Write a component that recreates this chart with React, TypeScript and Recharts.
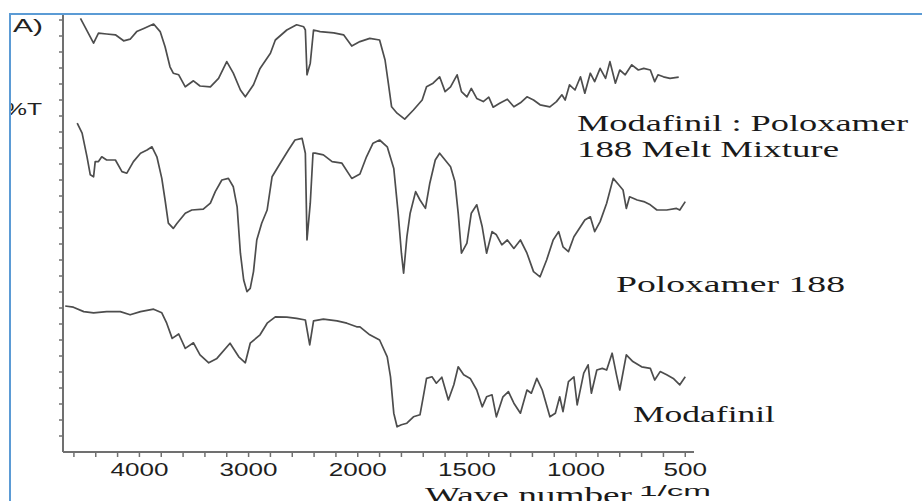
import React from "react";
import { LineChart, Line, XAxis, YAxis } from "recharts";

// ---- Data (wave number in 1/cm, transmittance in arbitrary %T units) ----
const mixWn = [4540,4420,4375,4300,4220,4145,4085,4025,3960,3870,3810,3765,3720,3690,3640,3580,3505,3445,3350,3275,3200,3140,3075,3030,2955,2895,2800,2755,2650,2560,2495,2480,2465,2435,2405,2345,2220,2130,2055,1990,1945,1900,1875,1860,1845,1820,1785,1745,1705,1685,1655,1625,1600,1575,1545,1525,1500,1480,1455,1425,1400,1380,1350,1315,1285,1255,1225,1195,1165,1120,1090,1065,1050,1030,1005,980,960,935,915,890,865,845,820,800,775,745,715,690,660,640,625,600,570,530];
const mixT = [108.4,102.2,104.7,104.5,104.3,102.8,103.2,105.1,105.9,107,105.1,101.3,96.3,94.7,94.3,91.3,92.8,91.5,91.3,93.4,97.6,94.7,90.5,88.8,91.8,95.9,99.7,103,105.5,106.8,106.3,105.5,94.3,97.2,105.5,105.1,104.8,104.3,101.5,102.6,103.4,103,98,92.2,86.3,84.7,83.2,85.5,88,91.3,92.2,93.8,90.1,91.3,94.3,90.1,88.8,90.9,88.4,87.6,88.7,86.2,87.2,88.2,86.3,87.3,88.8,88,86.8,86.3,87.6,89.3,88,91.8,90.5,93.8,89.7,94.7,92.6,95.9,93.4,97.6,92.2,95.5,94.3,96.8,95.5,95.9,95.5,92.6,94.3,93.8,93.4,93.7];

const poloWn = [4570,4525,4480,4450,4420,4405,4375,4345,4300,4220,4160,4115,4055,3990,3930,3885,3840,3795,3765,3735,3690,3655,3580,3520,3415,3350,3305,3245,3185,3140,3105,3075,3045,3015,2985,2955,2925,2880,2830,2785,2710,2635,2575,2510,2480,2465,2435,2410,2390,2315,2235,2145,2055,1990,1960,1930,1900,1865,1835,1815,1800,1790,1775,1760,1735,1715,1690,1670,1645,1625,1600,1575,1555,1540,1525,1500,1480,1455,1430,1410,1385,1365,1340,1315,1285,1255,1225,1195,1165,1135,1105,1080,1060,1035,1010,980,960,935,915,890,860,830,805,785,770,755,720,690,660,630,585,540,525,500];
const poloT = [82.2,79.7,73.8,69.3,68.8,72.6,72.6,73.8,73,73,70.1,69.7,72.6,74.7,75.5,76.3,73.8,68.4,63,57.2,55.9,57.2,59.7,60.5,60.7,62.2,65.1,68,68.4,66.3,61.3,49.7,43,40.1,40.9,45.1,53,57.2,60.5,68.8,72.2,75.5,78,78.4,74.7,53,62.2,74.7,74.7,74.3,72.6,72.2,68.4,69.5,73.8,77.2,78,76.3,70.9,59.7,49.7,44.7,53.8,59.7,65.1,63,60.9,67.2,73,74.7,73,71.3,67.6,59.7,49.7,52.2,59.7,61.8,56.3,49.7,55.1,54.3,51.8,53,50.9,53,49.7,45.1,43.8,48,53,55.1,51.3,50.1,53.8,56.3,58,58.8,55.1,57.6,62.2,68.4,66.8,65.5,60.9,63.8,63,62.6,61.8,60.5,60.5,60.9,60.5,62.6];

const modaWn = [4680,4605,4510,4420,4300,4175,4085,3990,3870,3795,3750,3700,3640,3580,3505,3445,3365,3290,3170,3090,3030,2985,2895,2830,2755,2650,2560,2480,2440,2405,2315,2190,2100,2010,1990,1945,1900,1865,1850,1835,1820,1800,1775,1745,1715,1700,1685,1660,1640,1615,1585,1560,1540,1515,1485,1455,1430,1410,1385,1365,1335,1310,1285,1255,1225,1205,1180,1155,1120,1095,1075,1060,1035,1010,995,965,945,930,905,880,860,835,815,800,770,740,700,660,640,615,585,555,525,500];
const modaT = [36.5,36.2,35.1,34.8,35.1,35.1,34.3,35.1,35.7,34.8,32.2,28.4,29.5,25.9,27.3,24.3,22.3,23.4,27.2,23.8,22.3,27.2,29.3,32.2,33.8,33.7,33.4,33,26.8,32.8,33.2,32.8,32.2,31.3,31.3,29.3,28,23.8,18.8,9.7,6.3,6.8,7.2,8.8,9.3,13.8,18.4,18.8,17.2,18.7,13,16.8,21.3,19.3,18.4,15.5,11.3,13.8,14.3,8.8,13.8,15.1,12.2,9.7,15.5,14.7,18.4,15.5,8.8,9.7,13.8,10.1,17.6,18.8,11.8,19.7,21.8,14.7,20.5,20.9,20.5,24.7,19.3,15.5,24.3,22.6,21.3,20.9,18,20.1,19.3,18.4,16.8,18.8];

// X tick marks (wave numbers): every 200 above 2000, every 100 below
const xTickWn = [4600,4400,4200,4000,3800,3600,3400,3200,3000,2800,2600,2400,2200,2000,1900,1800,1700,1600,1500,1400,1300,1200,1100,1000,900,800,700,600,500];
const xLabelWn = [4000, 3000, 2000, 1500, 1000, 500];
const yTicks = [4,8,12,16,20,24,28,32,36,40,44,48,52,56,60,64,68,72,76,80,84,88,92,96,100,104,108];

// FTIR axis: scale halves above 2000 1/cm
const toU = (wn: number) => (wn > 2000 ? 2000 + (wn - 2000) / 2 : wn);
const fromU = (u: number) => (u > 2000 ? 2000 + (u - 2000) * 2 : u);

const build = (wn: number[], t: number[]) => wn.map((w, i) => ({ u: toU(w), v: t[i] }));
const mixData = build(mixWn, mixT);
const poloData = build(poloWn, poloT);
const modaData = build(modaWn, modaT);

const XTick = (props: any) => {
  const { x, y, payload } = props;
  const wn = Math.round(fromU(payload.value));
  if (!xLabelWn.includes(wn)) return <g />;
  const label = String(wn);
  return (
    <text
      x={x}
      y={y + 17}
      textAnchor="middle"
      fontFamily="'Liberation Sans', Arial, sans-serif"
      fontSize={19}
      fill="#1e1e1e"
      textLength={label.length * 14.5}
      lengthAdjust="spacingAndGlyphs"
    >
      {label}
    </text>
  );
};

const serif = "'Liberation Serif', 'Times New Roman', Times, serif";
const sans = "'Liberation Sans', Arial, sans-serif";
const lineColor = "#4d4d4d";
const axisColor = "#707070";

export default function App() {
  return (
    <div style={{ position: "absolute", left: 0, top: 0, width: 922, height: 501, background: "#fff", overflow: "hidden" }}>
      <div
        style={{
          position: "absolute",
          left: 9,
          top: 13,
          width: 1000,
          height: 1000,
          border: "2px solid #5b9bd5",
          overflow: "hidden",
          boxSizing: "border-box",
        }}
      >
        <div style={{ position: "absolute", left: -11, top: -15, width: 922, height: 501 }}>
          <LineChart width={922} height={501} margin={{ top: 15, right: 228, bottom: 0, left: 0 }}>
            <XAxis
              type="number"
              dataKey="u"
              domain={[460, 3350]}
              reversed
              allowDataOverflow
              ticks={xTickWn.map(toU)}
              interval={0}
              tick={<XTick />}
              tickSize={5}
              height={49}
              axisLine={{ stroke: axisColor, strokeWidth: 2 }}
              tickLine={{ stroke: axisColor, strokeWidth: 1.5 }}
            />
            <YAxis
              type="number"
              domain={[0, 109.25]}
              allowDataOverflow
              ticks={yTicks}
              interval={0}
              tickFormatter={() => ""}
              tickSize={4}
              width={63}
              axisLine={{ stroke: axisColor, strokeWidth: 2 }}
              tickLine={{ stroke: axisColor, strokeWidth: 1.5 }}
            />
            <Line data={mixData} dataKey="v" type="linear" stroke={lineColor} strokeWidth={1.7} strokeLinejoin="round" dot={false} isAnimationActive={false} />
            <Line data={poloData} dataKey="v" type="linear" stroke={lineColor} strokeWidth={1.7} strokeLinejoin="round" dot={false} isAnimationActive={false} />
            <Line data={modaData} dataKey="v" type="linear" stroke={lineColor} strokeWidth={1.7} strokeLinejoin="round" dot={false} isAnimationActive={false} />
          </LineChart>
          <svg width={922} height={501} style={{ position: "absolute", left: 0, top: 0, pointerEvents: "none" }}>
            <text x={13} y={32} fontFamily={sans} fontSize={18} fill="#222" textLength={30} lengthAdjust="spacingAndGlyphs">A)</text>
            <text x={5} y={115} fontFamily={sans} fontSize={16} fill="#222" textLength={37} lengthAdjust="spacingAndGlyphs">%T</text>
            <text x={577} y={131} fontFamily={serif} fontSize={23} fill="#1a1a1a" textLength={331} lengthAdjust="spacingAndGlyphs">Modafinil : Poloxamer</text>
            <text x={577} y={157} fontFamily={serif} fontSize={23} fill="#1a1a1a" textLength={262} lengthAdjust="spacingAndGlyphs">188 Melt Mixture</text>
            <text x={616} y={292} fontFamily={serif} fontSize={23} fill="#1a1a1a" textLength={229} lengthAdjust="spacingAndGlyphs">Poloxamer 188</text>
            <text x={633} y={422} fontFamily={serif} fontSize={23} fill="#1a1a1a" textLength={142} lengthAdjust="spacingAndGlyphs">Modafinil</text>
            <text x={425} y={503} fontFamily={serif} fontSize={23} fill="#1a1a1a" textLength={207} lengthAdjust="spacingAndGlyphs">Wave number</text>
            <text x={639} y={496} fontFamily={sans} fontSize={14} fill="#1a1a1a" textLength={72} lengthAdjust="spacingAndGlyphs">1/cm</text>
          </svg>
        </div>
      </div>
    </div>
  );
}
